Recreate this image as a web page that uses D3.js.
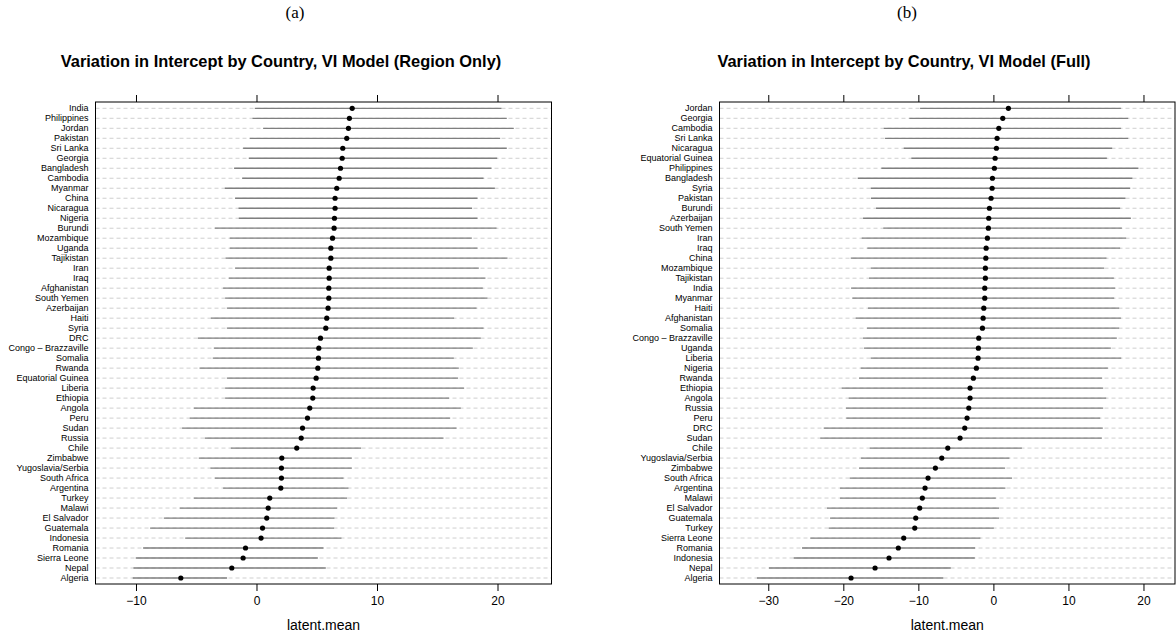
<!DOCTYPE html>
<html>
<head>
<meta charset="utf-8">
<script src="https://cdn.jsdelivr.net/npm/d3@7"></script>
<style>
  body { margin: 0; background: #fff; }
  svg { font-family: "Liberation Sans", Arial, sans-serif; }
</style>
</head>
<body>
<svg id="chart" width="1176" height="634"></svg>
<script>
//data, panel (a): Region Only
const countriesA = ["India", "Philippines", "Jordan", "Pakistan", "Sri Lanka", "Georgia", "Bangladesh", "Cambodia",
    "Myanmar", "China", "Nicaragua", "Nigeria", "Burundi", "Mozambique", "Uganda", "Tajikistan", "Iran", "Iraq",
    "Afghanistan", "South Yemen", "Azerbaijan", "Haiti", "Syria", "DRC", "Congo – Brazzaville", "Somalia", "Rwanda",
    "Equatorial Guinea", "Liberia", "Ethiopia", "Angola", "Peru", "Sudan", "Russia", "Chile", "Zimbabwe",
    "Yugoslavia/Serbia", "South Africa", "Argentina", "Turkey", "Malawi", "El Salvador", "Guatemala", "Indonesia",
    "Romania", "Sierra Leone", "Nepal", "Algeria"];
const meanA = [7.94, 7.71, 7.63, 7.49, 7.16, 7.11, 6.97, 6.86, 6.66, 6.52, 6.52, 6.47, 6.44, 6.31, 6.17, 6.17,
    6.03, 6.03, 6.0, 6.0, 5.94, 5.83, 5.75, 5.31, 5.17, 5.14, 5.09, 4.95, 4.70, 4.67, 4.42, 4.23, 3.82, 3.71,
    3.34, 2.10, 2.07, 2.07, 2.02, 1.10, 0.97, 0.85, 0.50, 0.38, -0.91, -1.11, -2.05, -6.28];
const lowerA = [-0.14, -0.33, 0.55, -0.56, -1.11, -0.64, -1.86, -1.19, -2.63, -1.78, -1.49, -1.47, -3.46, -2.22,
    -2.22, -2.57, -1.78, -2.30, -2.77, -2.60, -2.46, -3.79, -2.46, -4.87, -3.54, -3.63, -4.73, -2.46, -2.60,
    -2.60, -5.20, -5.54, -6.17, -4.29, -2.13, -4.79, -3.82, -3.46, -2.77, -5.20, -6.37, -7.69, -8.83, -5.92,
    -9.41, -10.02, -10.21, -10.27];
const upperA = [20.33, 20.77, 21.35, 20.22, 20.77, 19.97, 19.50, 18.84, 19.78, 18.34, 17.89, 18.34, 19.92, 17.87,
    18.34, 20.83, 18.45, 19.00, 18.78, 19.17, 18.26, 16.40, 18.84, 18.61, 17.95, 16.37, 16.79, 16.73, 17.23,
    15.98, 16.95, 16.07, 16.60, 15.52, 8.68, 7.91, 7.91, 7.22, 7.63, 7.52, 6.69, 6.47, 6.44, 7.05, 5.56, 5.09,
    5.75, -2.44];
const ticksA = [-10, 0, 10, 20];

//data, panel (b): Full
const countriesB = ["Jordan", "Georgia", "Cambodia", "Sri Lanka", "Nicaragua", "Equatorial Guinea", "Philippines",
    "Bangladesh", "Syria", "Pakistan", "Burundi", "Azerbaijan", "South Yemen", "Iran", "Iraq", "China", "Mozambique",
    "Tajikistan", "India", "Myanmar", "Haiti", "Afghanistan", "Somalia", "Congo – Brazzaville", "Uganda", "Liberia",
    "Nigeria", "Rwanda", "Ethiopia", "Angola", "Russia", "Peru", "DRC", "Sudan", "Chile", "Yugoslavia/Serbia",
    "Zimbabwe", "South Africa", "Argentina", "Malawi", "El Salvador", "Guatemala", "Turkey", "Sierra Leone",
    "Romania", "Indonesia", "Nepal", "Algeria"];
const meanB = [2.0, 1.25, 0.72, 0.49, 0.40, 0.23, 0.13, -0.13, -0.17, -0.31, -0.53, -0.62, -0.67, -0.80, -0.97,
    -1.01, -1.07, -1.07, -1.15, -1.15, -1.28, -1.37, -1.46, -1.95, -2.0, -2.04, -2.27, -2.67, -3.11, -3.11, -3.28,
    -3.51, -3.82, -4.44, -6.08, -6.88, -7.73, -8.71, -9.11, -9.47, -9.82, -10.35, -10.48, -11.95, -12.67, -13.91,
    -15.77, -18.97];
const lowerB = [-9.77, -11.2, -14.61, -14.44, -11.95, -10.93, -14.93, -18.08, -16.35, -16.31, -15.64, -17.37,
    -14.67, -17.55, -16.8, -19.01, -16.35, -16.57, -18.97, -18.8, -16.71, -18.35, -16.84, -17.37, -17.24, -16.35,
    -17.68, -17.91, -20.21, -19.28, -19.64, -19.6, -22.61, -23.07, -16.48, -17.64, -17.91, -19.15, -20.44, -20.44,
    -22.17, -21.77, -21.95, -24.4, -25.51, -26.62, -29.91, -31.51];
const upperB = [16.99, 17.96, 16.99, 17.96, 15.83, 15.12, 19.33, 18.53, 18.23, 17.6, 16.89, 18.32, 17.12, 17.69,
    16.89, 15.07, 14.76, 16.05, 16.23, 16.09, 16.76, 16.99, 16.76, 16.45, 15.65, 17.03, 15.25, 14.49, 14.63, 15.03,
    14.63, 14.23, 14.58, 14.45, 3.79, 2.13, 1.56, 2.49, 1.6, 0.32, 0.76, 0.76, 0.05, -1.73, -2.44, -2.48, -5.68,
    -6.67];
const ticksB = [-30, -20, -10, 0, 10, 20];

const svg = d3.select("#chart");

function drawPanel(p) {
    const g = svg.append("g");

    let xScale = d3.scaleLinear()
        .domain(p.domain)
        .range([p.left, p.right]);

    let yScale = d3.scalePoint()
        .domain(p.countries)
        .range([p.top + 6.3, p.bottom - 6]);

    let rows = p.countries.map((c, i) => ({
        name: c, mean: p.mean[i], lo: p.lower[i], hi: p.upper[i]
    }));

    //subfigure label
    g.append("text")
        .attr("x", p.labelX)
        .attr("y", 18)
        .attr("text-anchor", "middle")
        .style("font-family", "'Liberation Serif', serif")
        .style("font-size", "17px")
        .text(p.label);

    //title
    g.append("text")
        .attr("x", p.titleX)
        .attr("y", 67)
        .attr("text-anchor", "middle")
        .style("font-size", "16.4px")
        .style("font-weight", "bold")
        .text(p.title);

    //dashed reference lines
    g.selectAll(".ref")
        .data(rows)
        .join("line")
        .attr("x1", p.left)
        .attr("x2", p.right)
        .attr("y1", d => yScale(d.name))
        .attr("y2", d => yScale(d.name))
        .attr("stroke", "#cfcfcf")
        .attr("stroke-dasharray", "4,3")
        .attr("stroke-width", 1);

    //intervals
    g.selectAll(".seg")
        .data(rows)
        .join("line")
        .attr("x1", d => xScale(d.lo))
        .attr("x2", d => xScale(d.hi))
        .attr("y1", d => yScale(d.name))
        .attr("y2", d => yScale(d.name))
        .attr("stroke", "#7f7f7f")
        .attr("stroke-width", 1.3);

    //points
    g.selectAll(".pt")
        .data(rows)
        .join("circle")
        .attr("cx", d => xScale(d.mean))
        .attr("cy", d => yScale(d.name))
        .attr("r", 2.6)
        .attr("fill", "#000");

    //country labels
    g.selectAll(".lab")
        .data(rows)
        .join("text")
        .attr("x", p.left - 7)
        .attr("y", d => yScale(d.name))
        .attr("dy", "0.35em")
        .attr("text-anchor", "end")
        .style("font-size", "9px")
        .text(d => d.name);

    //axes
    let bottomAxis = d3.axisBottom(xScale)
        .tickValues(p.ticks)
        .tickSize(7)
        .tickSizeOuter(0)
        .tickPadding(5);

    let topAxis = d3.axisTop(xScale)
        .tickValues(p.ticks)
        .tickSize(7)
        .tickSizeOuter(0)
        .tickFormat("");

    let gb = g.append("g")
        .attr("transform", "translate(0," + p.bottom + ")")
        .call(bottomAxis);
    gb.select(".domain").remove();
    gb.selectAll("text")
        .style("font-family", "'Liberation Sans', Arial, sans-serif")
        .style("font-size", "12px")
        .attr("fill", "#000");

    let gt = g.append("g")
        .attr("transform", "translate(0," + p.top + ")")
        .call(topAxis);
    gt.select(".domain").remove();

    //box
    g.append("rect")
        .attr("x", p.left)
        .attr("y", p.top)
        .attr("width", p.right - p.left)
        .attr("height", p.bottom - p.top)
        .attr("fill", "none")
        .attr("stroke", "#000")
        .attr("stroke-width", 1);

    //x label
    g.append("text")
        .attr("x", (p.left + p.right) / 2)
        .attr("y", 630)
        .attr("text-anchor", "middle")
        .style("font-size", "14px")
        .text("latent.mean");
}

drawPanel({
    label: "(a)", labelX: 295,
    title: "Variation in Intercept by Country, VI Model (Region Only)", titleX: 281,
    countries: countriesA, mean: meanA, lower: lowerA, upper: upperA, ticks: ticksA,
    domain: [-13.36, 24.48],
    left: 95.5, right: 551.5, top: 102, bottom: 584
});

drawPanel({
    label: "(b)", labelX: 907,
    title: "Variation in Intercept by Country, VI Model (Full)", titleX: 904,
    countries: countriesB, mean: meanB, lower: lowerB, upper: upperB, ticks: ticksB,
    domain: [-36.5, 24.2],
    left: 719.5, right: 1175, top: 102, bottom: 584
});
</script>
</body>
</html>
